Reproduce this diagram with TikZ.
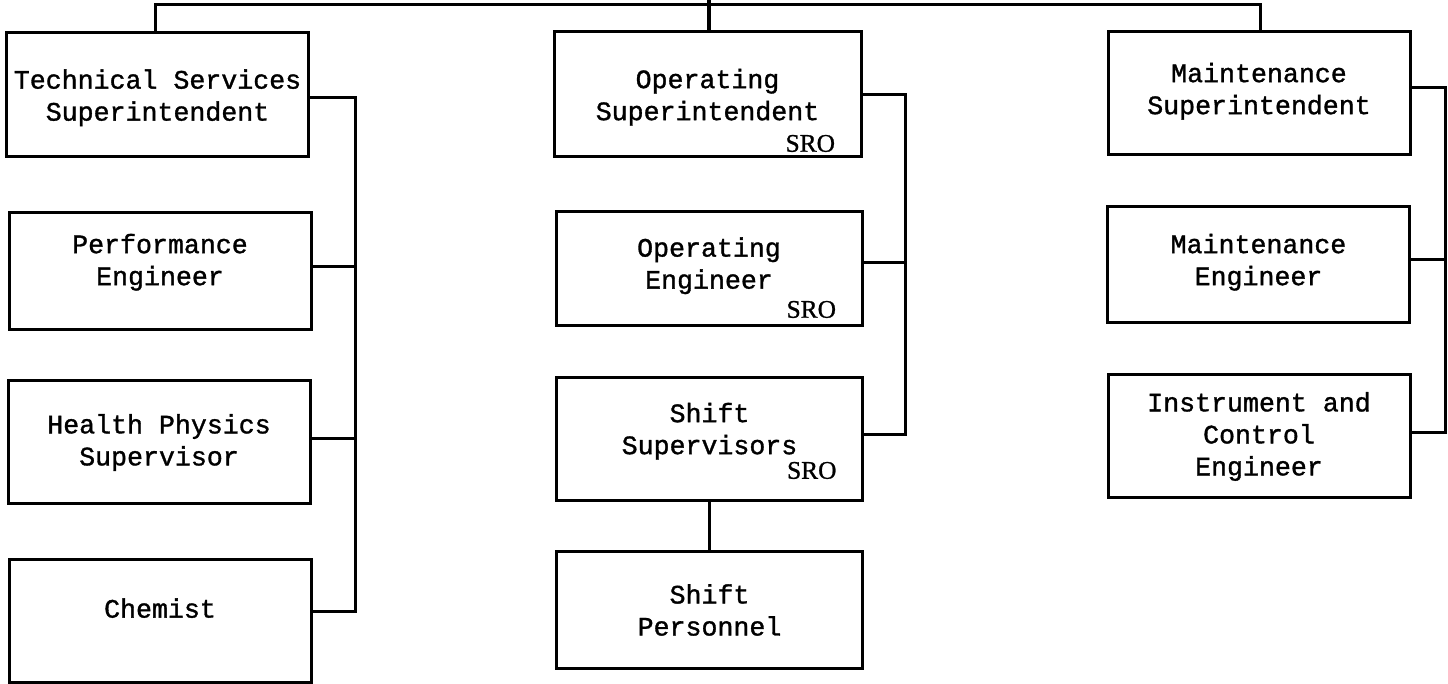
\documentclass[tikz,border=0pt]{standalone}
\usepackage{fontspec}
\setmonofont[FakeBold=1.2]{Liberation Mono}
\newfontfamily\sroface[FakeBold=1]{Liberation Serif}
\begin{document}
\begin{tikzpicture}[x=0.5pt,y=-0.5pt,line width=1.5pt,
  post/.style={draw, rectangle, inner sep=0pt, minimum width=151pt, align=center, font=\fontsize{13.3}{16}\ttfamily},
  lift/.style={text depth=#1},
  sronote/.style={anchor=south east, inner sep=0pt, font=\fontsize{12.7}{14}\sroface, xshift=-13pt},
  sro/.style={label={[sronote, yshift=#1]south east:SRO}},
  sro/.default=2.5pt]
\useasboundingbox (0,0) rectangle (1448,684);
\node[post, minimum height=62pt, lift=0pt] (bx0) at (157.5,95) {Technical Services\\Superintendent};
\node[post, minimum height=58.5pt, lift=12pt] (bx1) at (160,271.5) {Performance\\Engineer};
\node[post, minimum height=61.5pt] (bx2) at (159,442.5) {Health Physics\\Supervisor};
\node[post, minimum height=61pt, lift=13pt] (bx3) at (160,621) {Chemist};
\coordinate (c0) at (355,98);
\coordinate (c1) at (355,267);
\coordinate (c2) at (355,439);
\coordinate (c3) at (355,612);
\draw[] (bx0.east |- c0) -- (c0) -- (c3) -- (bx3.east |- c3);
\draw[] (bx1.east |- c1) -- (c1);
\draw[] (bx2.east |- c2) -- (c2);
\node[post, minimum width=153.5pt, minimum height=62.5pt, lift=0pt, sro] (bx4) at (707.5,94.5) {Operating\\Superintendent};
\node[post, minimum width=153pt, minimum height=57pt, lift=6pt, sro=4pt] (bx5) at (709,269) {Operating\\Engineer};
\node[post, minimum width=153pt, minimum height=61.5pt, lift=11pt, sro=11pt] (bx6) at (709.5,439.5) {Shift\\Supervisors};
\node[post, minimum width=153pt, minimum height=58pt] (bx7) at (709.5,610) {Shift\\Personnel};
\coordinate (c4) at (905,95);
\coordinate (c5) at (905,263);
\coordinate (c6) at (905,435);
\draw[] (bx4.east |- c4) -- (c4) -- (c6) -- (bx6.east |- c6);
\draw[] (bx5.east |- c5) -- (c5);
\draw[] (bx6.south) -- (bx7.north);
\node[post, minimum height=61.5pt, lift=5pt] (bx8) at (1259,93.5) {Maintenance\\Superintendent};
\node[post, minimum height=58pt, lift=5.5pt] (bx9) at (1258.5,265) {Maintenance\\Engineer};
\node[post, minimum height=61.5pt] (bx10) at (1259,436.5) {Instrument and\\Control\\Engineer};
\coordinate (c8) at (1445,88);
\coordinate (c9) at (1445,260);
\coordinate (c10) at (1445,433);
\draw[] (bx8.east |- c8) -- (c8) -- (c10) -- (bx10.east |- c10);
\draw[] (bx9.east |- c9) -- (c9);
\coordinate (t0) at (155,5);
\coordinate (t1) at (1260,5);
\coordinate (t2) at (709,0);
\draw[] (bx0.north -| t0) -- (t0) -- (t1) -- (bx8.north -| t1);
\draw[line width=2pt] (t2) -- (bx4.north -| t2);
\end{tikzpicture}
\end{document}
